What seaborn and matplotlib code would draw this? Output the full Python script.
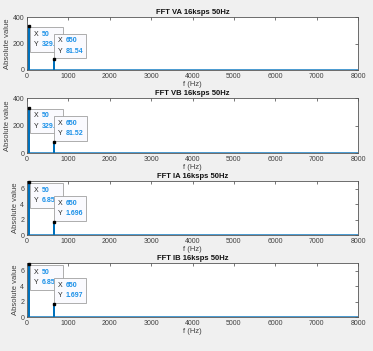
import numpy as np
import seaborn as sns
import matplotlib.pyplot as plt
from matplotlib.offsetbox import AnnotationBbox, HPacker, VPacker, TextArea

sns.set_style("white")
plt.rcParams['font.family'] = ['Liberation Sans', 'DejaVu Sans']

# spectrum samples (Hz) and magnitudes for each channel
freq = [0, 49, 50, 51, 649, 650, 651, 8000]
va = [0, 0, 329.3, 0, 0, 81.54, 0, 0]
vb = [0, 0, 329.3, 0, 0, 81.52, 0, 0]
ia = [0, 0, 6.857, 0, 0, 1.696, 0, 0]
ib = [0, 0, 6.856, 0, 0, 1.697, 0, 0]

titles = ["FFT VA 16ksps 50Hz", "FFT VB 16ksps 50Hz", "FFT IA 16ksps 50Hz", "FFT IB 16ksps 50Hz"]
series = [va, vb, ia, ib]
ylims = [400, 400, 7, 7]
yticks = [[0, 200, 400], [0, 200, 400], [0, 2, 4, 6], [0, 2, 4, 6]]
tip_labels = [[("50", "329.3"), ("650", "81.54")],
              [("50", "329.3"), ("650", "81.52")],
              [("50", "6.857"), ("650", "1.696")],
              [("50", "6.856"), ("650", "1.697")]]

W, H = 373, 351
fig = plt.figure(figsize=(W / 100, H / 100), dpi=100, facecolor='#f0f0f0')

# axes boxes in pixels: (top, bottom)
rows = [(17, 70), (98, 153), (181, 235), (263, 317)]
left, right = 27, 358

line_c = '#0072BD'
tip_c = '#1a90e8'
txt_c = '#404040'
tip_fs = 5
pad_px = 3.5

for i, (top, bot) in enumerate(rows):
    ax = fig.add_axes([left / W, 1 - bot / H, (right - left) / W, (bot - top) / H])
    ax.set_facecolor('white')
    sns.lineplot(x=freq, y=series[i], ax=ax, color=line_c, linewidth=1.0)
    ax.set_xlim(0, 8000)
    ax.set_ylim(0, ylims[i])
    ax.set_xticks(range(0, 8001, 1000))
    ax.set_yticks(yticks[i])
    ax.tick_params(direction='in', length=2, width=0.5, labelsize=5, colors=txt_c,
                   top=True, right=True, pad=2)
    for s in ax.spines.values():
        s.set_color('#555555')
        s.set_linewidth(0.6)
    ax.set_title(titles[i], fontsize=5.5, fontweight='bold', pad=2, color='#111111')
    ax.set_xlabel("f (Hz)", fontsize=5.5, color=txt_c, labelpad=1)
    ax.set_ylabel("Absolute value", fontsize=5.5, color=txt_c, labelpad=1)

    ys = series[i]
    peaks = [(freq[2], ys[2]), (freq[5], ys[5])]
    for j, (px, py) in enumerate(peaks):
        ax.plot([px], [py], marker='s', ms=2, color='black', zorder=7, clip_on=False)
        xs, yv = tip_labels[i][j]
        tp = dict(fontsize=tip_fs, color='#222222')
        vp = dict(fontsize=tip_fs, color=tip_c, fontweight='bold')
        keys = VPacker(children=[TextArea("X", textprops=tp), TextArea("Y", textprops=tp)],
                       align='left', pad=0, sep=2.5)
        vals = VPacker(children=[TextArea(xs, textprops=vp), TextArea(yv, textprops=vp)],
                       align='left', pad=0, sep=2.5)
        box = HPacker(children=[keys, vals], align='top', pad=0, sep=2.5)
        if j == 0:
            offs, align = (1 + pad_px, -(1 + pad_px)), (0, 1)
        else:
            offs, align = (pad_px, 1 + pad_px), (0, 0)
        ab = AnnotationBbox(box, (px, py), xybox=offs, xycoords='data',
                            boxcoords='offset pixels', box_alignment=align,
                            pad=pad_px * 0.72 / tip_fs, fontsize=tip_fs,
                            frameon=True, zorder=6, annotation_clip=False,
                            bboxprops=dict(edgecolor='#a0a0a0', facecolor='#fafafe',
                                           linewidth=0.6))
        ax.add_artist(ab)

fig.savefig("out.png", dpi=100, facecolor=fig.get_facecolor())
